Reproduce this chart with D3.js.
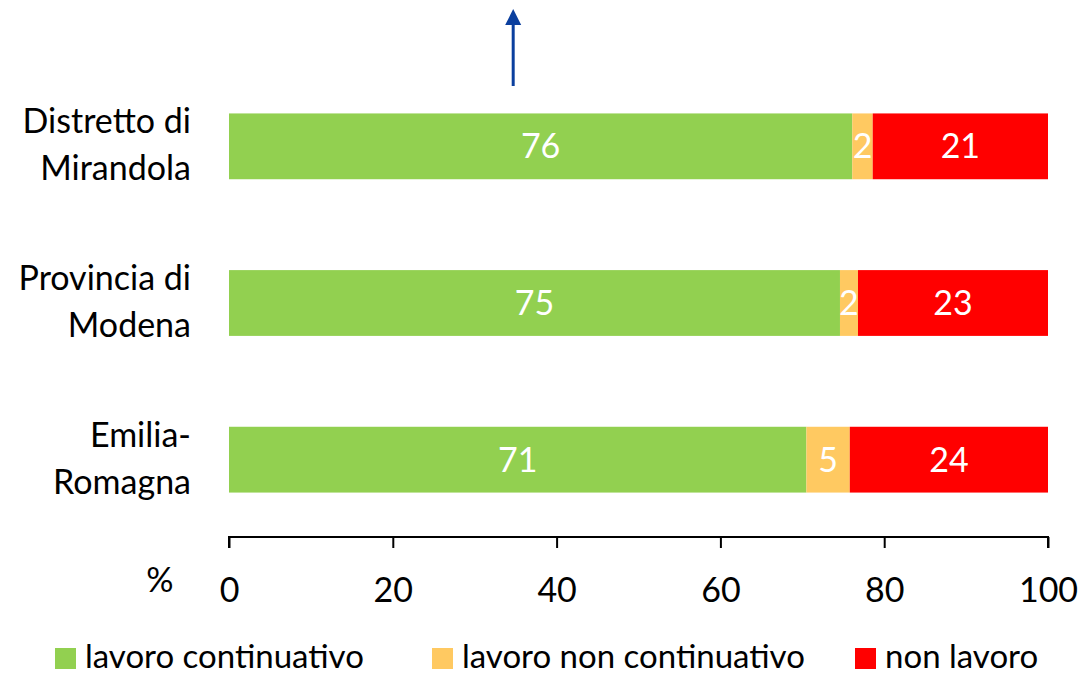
<!DOCTYPE html>
<html>
<head>
<meta charset="utf-8">
<script src="https://cdn.jsdelivr.net/npm/d3@7"></script>
<style>
  body { margin: 0; background: #fff; }
  text { font-family: Lato, "Open Sans", sans-serif; }
</style>
</head>
<body>
<svg width="1086" height="677"></svg>
<script>
// data
var categories = [["Distretto di", "Mirandola"], ["Provincia di", "Modena"], ["Emilia-", "Romagna"]];
var series = ["lavoro continuativo", "lavoro non continuativo", "non lavoro"];
var continuativo = [76.1, 74.6, 70.5];
var nonContinuativo = [2.5, 2.2, 5.3];
var nonLavoro = [21.4, 23.2, 24.2];
var labelsShown = [[76, 2, 21], [75, 2, 23], [71, 5, 24]];
var xTicks = [0, 20, 40, 60, 80, 100];
var colors = ["#92D050", "#FFC961", "#FF0000"];
var arrowAt = 34.7;   // position of the blue arrow on the % axis

var fs = "34px";
var svg = d3.select("svg");

var x = d3.scaleLinear().domain([0, 100]).range([229, 1048]);
var y = d3.scaleBand().domain(d3.range(categories.length)).range([68, 538]).paddingInner(0.58).paddingOuter(0.29);

// stacked rows
var rows = categories.map(function (c, i) {
    return { i: i, vals: [continuativo[i], nonContinuativo[i], nonLavoro[i]] };
});
var stack = d3.stack().keys([0, 1, 2]).value(function (d, k) { return d.vals[k]; });
var layers = stack(rows);

var g = svg.append("g");
layers.forEach(function (layer, k) {
    g.selectAll(".seg" + k)
        .data(layer)
        .enter().append("rect")
        .attr("x", function (d) { return x(d[0]); })
        .attr("y", function (d) { return y(d.data.i); })
        .attr("width", function (d) { return x(d[1]) - x(d[0]); })
        .attr("height", y.bandwidth())
        .attr("fill", colors[k]);

    g.selectAll(".lab" + k)
        .data(layer)
        .enter().append("text")
        .attr("x", function (d) { return (x(d[0]) + x(d[1])) / 2; })
        .attr("y", function (d) { return y(d.data.i) + y.bandwidth() / 2; })
        .attr("dy", "0.35em")
        .attr("text-anchor", "middle")
        .attr("fill", "#fff")
        .attr("font-size", fs)
        .text(function (d) { return labelsShown[d.data.i][k]; });
});

// category labels
categories.forEach(function (c, i) {
    var t = svg.append("text")
        .attr("text-anchor", "end")
        .attr("font-size", fs)
        .attr("fill", "#000");
    c.forEach(function (line, j) {
        t.append("tspan")
            .attr("x", 191)
            .attr("y", y(i) + y.bandwidth() / 2 + (j === 0 ? -13 : 34))
            .text(line);
    });
});

// x axis
var xaxis = svg.append("g")
    .attr("transform", "translate(0,537)")
    .call(d3.axisBottom(x).tickValues(xTicks).tickSize(11).tickSizeOuter(0).tickPadding(30));
xaxis.select(".domain").attr("stroke", "#000").attr("stroke-width", 2)
    .attr("d", "M" + x(0) + ",11V0H" + x(100) + "V11");
xaxis.selectAll("line").attr("stroke", "#000").attr("stroke-width", 2);
xaxis.selectAll("text").attr("font-size", fs).attr("fill", "#000")
    .style("font-family", "Lato, 'Open Sans', sans-serif");

svg.append("text")
    .attr("x", 160)
    .attr("y", 592)
    .attr("text-anchor", "middle")
    .attr("font-size", fs)
    .text("%");

// blue arrow
var ax = x(arrowAt);
svg.append("line")
    .attr("x1", ax).attr("x2", ax)
    .attr("y1", 86).attr("y2", 22)
    .attr("stroke", "#0B3F9E").attr("stroke-width", 3);
svg.append("path")
    .attr("d", "M" + (ax - 8) + ",25L" + ax + ",9L" + (ax + 8) + ",25Z")
    .attr("fill", "#0B3F9E");

// legend
var legendX = [55, 432, 855];
series.forEach(function (s, k) {
    svg.append("rect")
        .attr("x", legendX[k]).attr("y", 648)
        .attr("width", 21).attr("height", 21)
        .attr("fill", colors[k]);
    svg.append("text")
        .attr("x", legendX[k] + 30)
        .attr("y", 668)
        .attr("font-size", "33px")
        .text(s);
});
</script>
</body>
</html>
